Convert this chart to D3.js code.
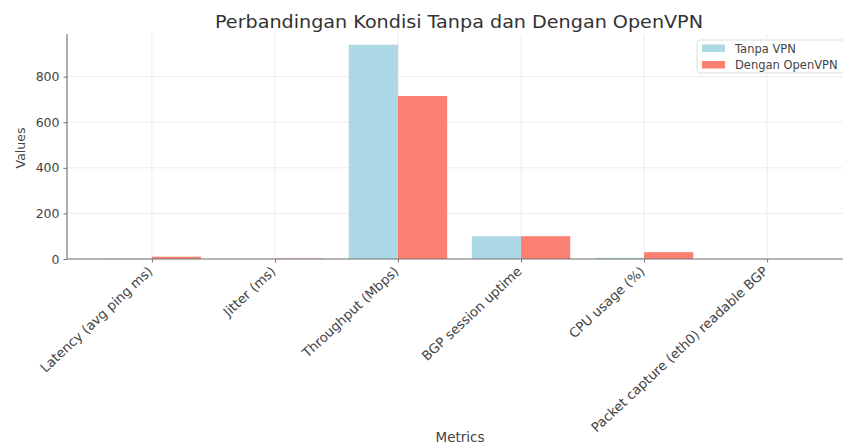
<!DOCTYPE html>
<html><head><meta charset="utf-8">
<script src="https://cdn.jsdelivr.net/npm/d3@7"></script>
<style>body{margin:0;background:#fff}svg{display:block}text{font-family:"DejaVu Sans",sans-serif}</style>
</head><body>
<svg id="c" width="843" height="446"></svg>
<script>
const categories = ["Latency (avg ping ms)","Jitter (ms)","Throughput (Mbps)","BGP session uptime","CPU usage (%)","Packet capture (eth0) readable BGP"];
const tanpaVPN = [2, 1, 940, 100, 5, 1];
const denganOpenVPN = [10, 2, 715, 100, 30, 0];
const seriesNames = ["Tanpa VPN","Dengan OpenVPN"];
const yTicks = [0,200,400,600,800];
const colors = ["#add8e6","#fa8072"];

const svg = d3.select("#c");
const L=67, R=852, T=34, B=259;
const x = d3.scaleLinear().domain([-0.69, 5.69]).range([L,R]);
const y = d3.scaleLinear().domain([0, 987]).range([B,T]);
const bw = 0.4;

// grid
svg.append("g").selectAll("line").data(yTicks).join("line")
  .attr("x1",L).attr("x2",R).attr("y1",d=>y(d)).attr("y2",d=>y(d))
  .attr("stroke","#ececec").attr("stroke-width",1);
svg.append("g").selectAll("line").data(categories).join("line")
  .attr("x1",(d,i)=>x(i)).attr("x2",(d,i)=>x(i)).attr("y1",T).attr("y2",B)
  .attr("stroke","#ececec").attr("stroke-width",1);

// bars
const series=[tanpaVPN,denganOpenVPN];
series.forEach((vals,s)=>{
  svg.append("g").selectAll("rect").data(vals).join("rect")
    .attr("x",(d,i)=>x(i-bw+s*bw)).attr("width",x(bw)-x(0))
    .attr("y",d=>y(d)).attr("height",d=>B-y(d))
    .attr("fill",colors[s]);
});

// axes
const ya = svg.append("g").attr("transform",`translate(${L},0)`)
  .call(d3.axisLeft(y).tickValues(yTicks).tickSize(3.5).tickPadding(4));
ya.select(".domain").attr("stroke","#777").attr("stroke-width",1.2).attr("d",`M0,${T}V${B}`);
ya.selectAll(".tick line").attr("stroke","#777");
ya.selectAll("text").attr("font-size",12.5).attr("fill","#444");

const xa = svg.append("g").attr("transform",`translate(0,${B})`)
  .call(d3.axisBottom(x).tickValues(d3.range(categories.length)).tickFormat(i=>categories[i]).tickSize(3.5));
xa.select(".domain").attr("stroke","#777").attr("stroke-width",1.2).attr("d",`M${L},0H${R}`);
xa.selectAll(".tick line").attr("stroke","#777");
xa.selectAll("text").attr("font-size",13.2).attr("fill","#444")
  .attr("text-anchor","end").attr("dy","0.35em")
  .attr("transform","translate(-2,10) rotate(-43)").attr("x",0).attr("y",0);

// title & labels
svg.append("text").attr("x",459).attr("y",28).attr("text-anchor","middle")
  .attr("font-size",17.4).attr("fill","#333")
  .attr("textLength",488).attr("lengthAdjust","spacingAndGlyphs")
  .text("Perbandingan Kondisi Tanpa dan Dengan OpenVPN");
svg.append("text").attr("x",460).attr("y",442).attr("text-anchor","middle")
  .attr("font-size",13.5).attr("fill","#444").text("Metrics");
svg.append("text").attr("transform","translate(25,148) rotate(-90)").attr("text-anchor","middle")
  .attr("font-size",12.5).attr("fill","#444").text("Values");

// legend
const lg = svg.append("g").attr("transform","translate(697,40)");
lg.append("rect").attr("width",160).attr("height",33).attr("rx",3)
  .attr("fill","#fff").attr("fill-opacity",0.8).attr("stroke","#ddd");
seriesNames.forEach((n,i)=>{
  lg.append("rect").attr("x",5).attr("y",4.5+i*16.5).attr("width",23).attr("height",7.5).attr("fill",colors[i]);
  lg.append("text").attr("x",38).attr("y",12.5+i*16.5).attr("font-size",11.5).attr("fill","#444").text(n);
});
</script>
</body></html>
